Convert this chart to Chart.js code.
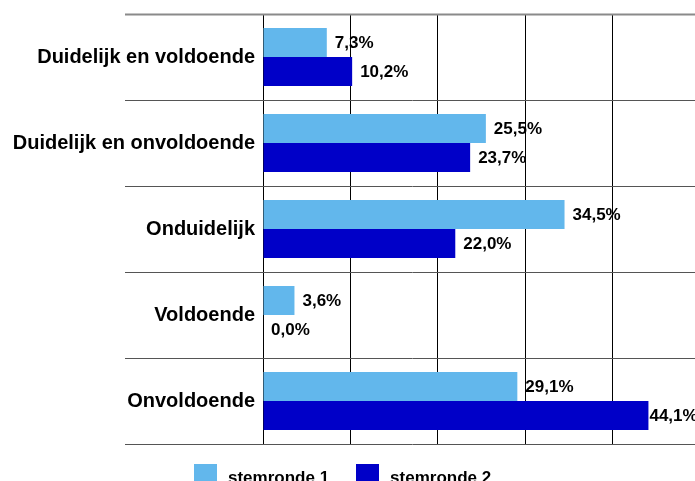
<!DOCTYPE html>
<html>
<head>
<meta charset="utf-8">
<script src="https://cdn.jsdelivr.net/npm/chart.js@4/dist/chart.umd.min.js"></script>
<style>
  html, body { margin: 0; padding: 0; background: #fff; overflow: hidden; }
  #wrap { position: relative; width: 695px; height: 481px; overflow: hidden; }
  #chart { position: absolute; left: 0; top: 0; }
  .legend {
    position: absolute; left: 194px; top: 464px;
    display: flex; gap: 27px;
    font: bold 17px 'Liberation Sans', Arial, sans-serif; color: #000;
  }
  .legend-item { display: flex; align-items: flex-start; gap: 11px; }
  .legend-box { width: 23px; height: 23px; }
  .legend-item span { line-height: 23px; margin-top: 2px; }
</style>
</head>
<body>
<div id="wrap">
  <canvas id="chart" width="700" height="481"></canvas>
  <div class="legend" id="legend"></div>
</div>
<script>
const categories = [
  'Duidelijk en voldoende',
  'Duidelijk en onvoldoende',
  'Onduidelijk',
  'Voldoende',
  'Onvoldoende'
];
const seriesNames = ['stemronde 1', 'stemronde 2'];
const stemronde1 = [7.3, 25.5, 34.5, 3.6, 29.1];
const stemronde2 = [10.2, 23.7, 22.0, 0.0, 44.1];
const xTicks = [0, 10, 20, 30, 40, 50];

const colors = ['#62B7EC', '#0000C8'];
const FONT = "'Liberation Sans', Arial, sans-serif";

const fmt = v => v.toFixed(1).replace('.', ',') + '%';

// horizontal separators between categories, running into the label column
const separatorPlugin = {
  id: 'separators',
  beforeDatasetsDraw(chart) {
    const { ctx, chartArea, scales: { y } } = chart;
    const n = categories.length;
    const lines = [chartArea.top];
    for (let i = 1; i < n; i++) {
      lines.push((y.getPixelForValue(i - 1) + y.getPixelForValue(i)) / 2);
    }
    lines.push(chartArea.bottom);
    ctx.save();
    lines.forEach((py, i) => {
      const yy = Math.round(py) + 0.5;
      ctx.strokeStyle = i === 0 ? '#8a8a8a' : '#555';
      ctx.lineWidth = i === 0 ? 2 : 1;
      ctx.beginPath();
      ctx.moveTo(125, yy);
      ctx.lineTo(chart.width, yy);
      ctx.stroke();
    });
    ctx.restore();
  }
};

// value labels at the end of each bar
const valueLabelPlugin = {
  id: 'valueLabels',
  afterDatasetsDraw(chart) {
    const { ctx } = chart;
    ctx.save();
    ctx.font = 'bold 17px ' + FONT;
    ctx.fillStyle = '#000';
    ctx.textBaseline = 'middle';
    chart.data.datasets.forEach((ds, di) => {
      chart.getDatasetMeta(di).data.forEach((bar, i) => {
        const text = fmt(ds.data[i]);
        const w = ctx.measureText(text).width;
        let x = bar.x + 8;
        if (x + w > chart.width) x = bar.x + 1;
        ctx.fillText(text, x, bar.y + 1);
      });
    });
    ctx.restore();
  }
};

new Chart(document.getElementById('chart'), {
  type: 'bar',
  data: {
    labels: categories,
    datasets: [
      { label: seriesNames[0], data: stemronde1, backgroundColor: colors[0] },
      { label: seriesNames[1], data: stemronde2, backgroundColor: colors[1] }
    ]
  },
  options: {
    indexAxis: 'y',
    responsive: false,
    animation: false,
    categoryPercentage: 0.674,
    barPercentage: 1,
    layout: { padding: { top: 14, bottom: 37, left: 0, right: 0 } },
    plugins: {
      legend: { display: false },
      tooltip: { enabled: false }
    },
    scales: {
      x: {
        min: 0,
        max: 50,
        afterBuildTicks: scale => { scale.ticks = xTicks.map(v => ({ value: v })); },
        ticks: { display: false },
        grid: { color: '#000', lineWidth: 1, drawTicks: false },
        border: { display: false }
      },
      y: {
        afterFit: scale => {
          scale.width = 263;
          scale.paddingTop = 0;
          scale.paddingBottom = 0;
        },
        ticks: {
          color: '#000',
          padding: 8,
          font: { family: FONT, size: 20, weight: 'bold' }
        },
        grid: { display: false, drawTicks: false },
        border: { display: false }
      }
    }
  },
  plugins: [separatorPlugin, valueLabelPlugin]
});

// legend
const legend = document.getElementById('legend');
seriesNames.forEach((name, i) => {
  const item = document.createElement('div');
  item.className = 'legend-item';
  item.innerHTML = `<div class="legend-box" style="background:${colors[i]}"></div><span>${name}</span>`;
  legend.appendChild(item);
});
</script>
</body>
</html>
